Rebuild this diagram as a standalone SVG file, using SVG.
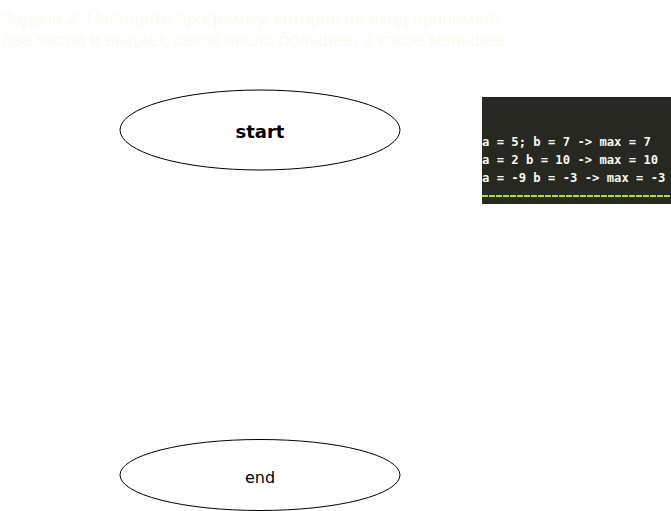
<svg xmlns="http://www.w3.org/2000/svg" width="671" height="511" viewBox="0 0 671 511">
<style>
.title{font-family:"Liberation Sans",Arial,sans-serif;font-size:17.9px;fill:#fbfbee}
.term{fill:#fff;stroke:#000;stroke-width:1}
.lbl{font-family:"DejaVu Sans",Verdana,sans-serif;fill:#000;text-anchor:middle}
.code{font-family:"DejaVu Sans Mono",monospace;font-size:12.2px;font-weight:bold;fill:#f8f8f2}
</style>
<rect width="671" height="511" fill="#fff"/>
<text class="title" x="2" y="25">Задача 2: Напишите программу, которая на вход принимает</text>
<text class="title" x="2" y="46">два числа и выдаёт, какое число большее, а какое меньшее.</text>
<g id="console">
<rect x="482" y="97" width="189" height="107" fill="#272822"/>
<text class="code" x="482" y="146">a = 5; b = 7 -&gt; max = 7</text>
<text class="code" x="482" y="164">a = 2 b = 10 -&gt; max = 10</text>
<text class="code" x="482" y="182">a = -9 b = -3 -&gt; max = -3</text>
<line x1="482" y1="196" x2="671" y2="196" stroke="#a6e22e" stroke-width="2" stroke-dasharray="6,1"/>
</g>
<g id="start">
<ellipse class="term" cx="260" cy="130" rx="140" ry="40"/>
<text class="lbl" x="260" y="138" font-size="18" font-weight="bold">start</text>
</g>
<g id="end">
<ellipse class="term" cx="260" cy="475" rx="140" ry="35.5"/>
<text class="lbl" x="260" y="483" font-size="16">end</text>
</g>
<g id="connectors"></g>
</svg>
